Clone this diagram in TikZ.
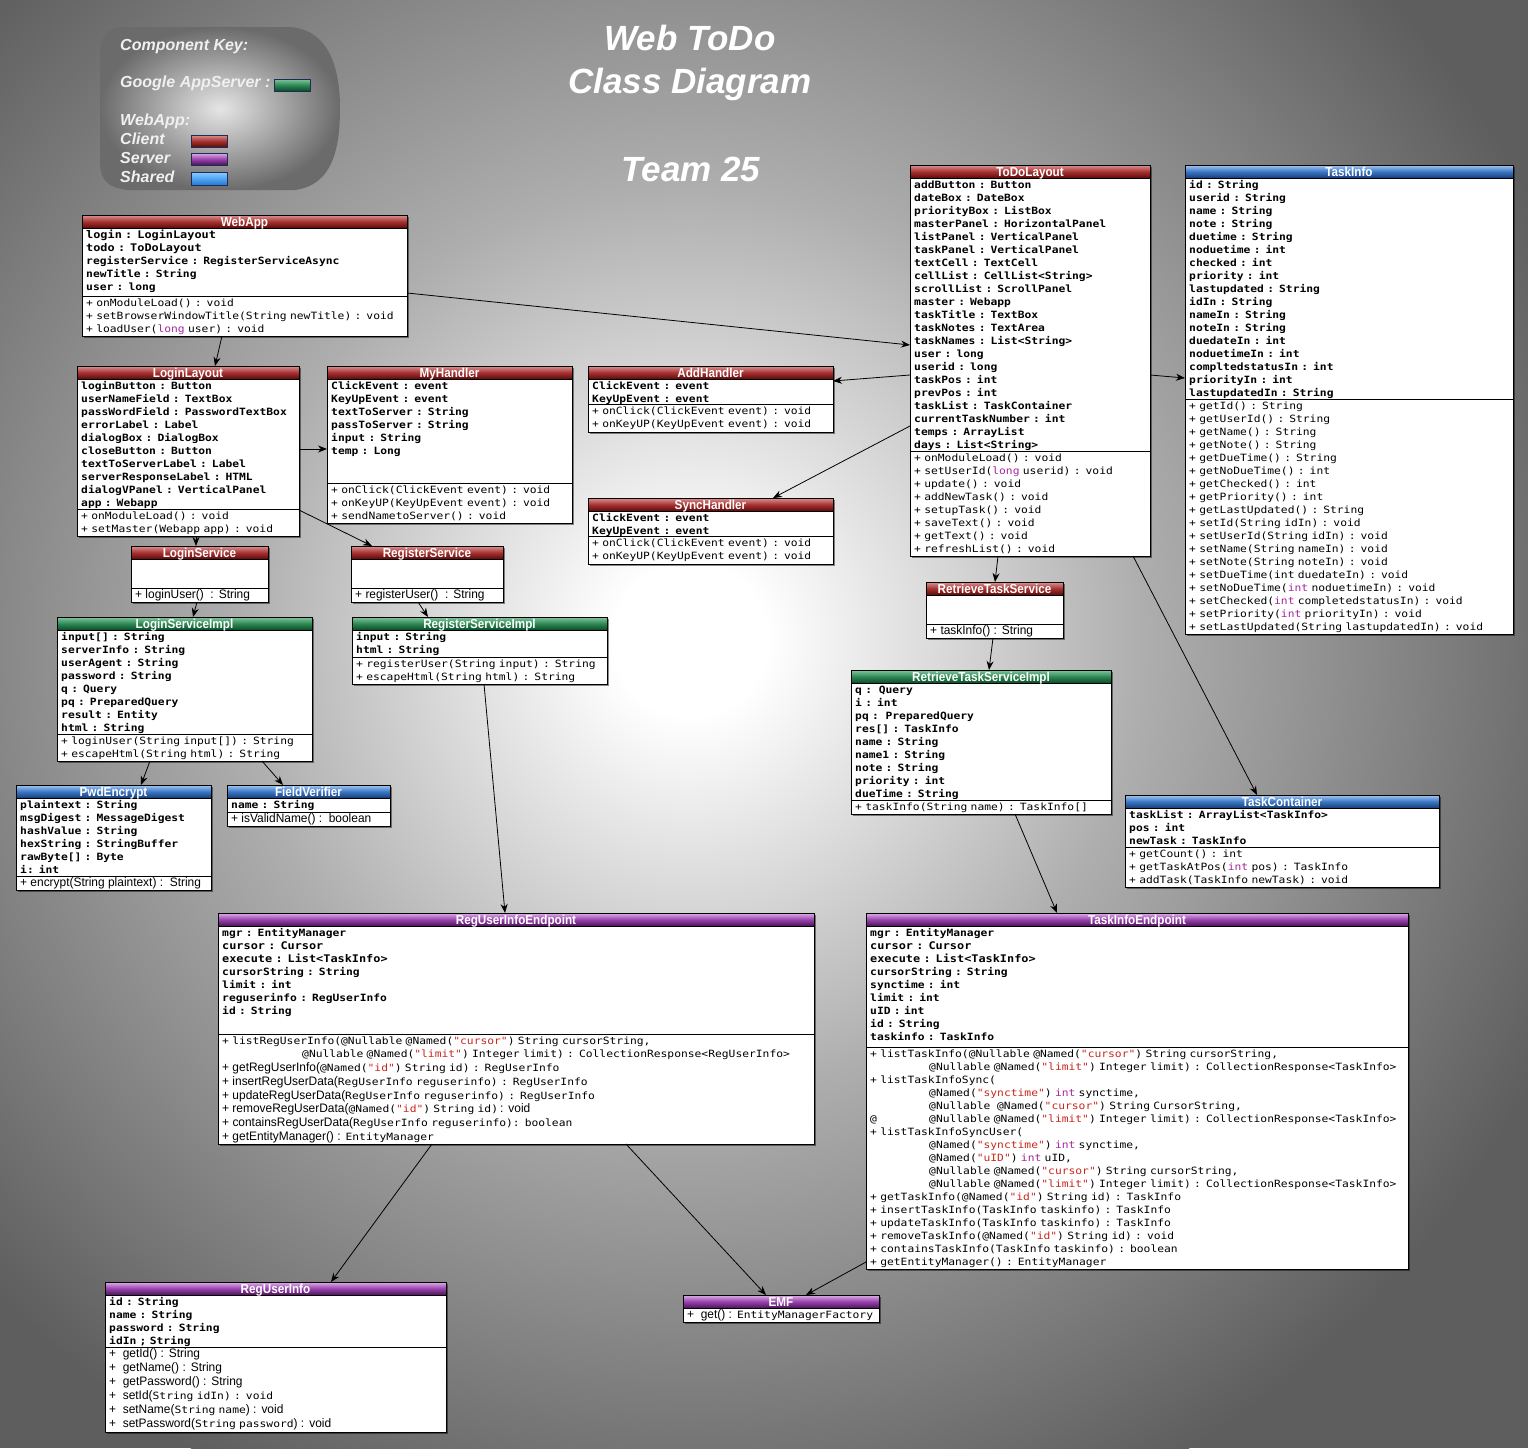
\documentclass[tikz,border=0pt]{standalone}
\usepackage{fontspec}
\setmainfont{Liberation Sans}
\newfontfamily\monof[FakeStretch=1.13]{DejaVu Sans Mono}
\newfontfamily\monoe[FakeStretch=1.13]{DejaVu Sans Mono}
\newfontfamily\hvf[FakeStretch=0.97]{Liberation Sans}
\newfontfamily\hdrf[FakeStretch=0.9]{Liberation Sans}
\usetikzlibrary{calc,shadows,arrows.meta}

\definecolor{kwc}{HTML}{A4289E}
\definecolor{strc}{HTML}{C8281E}
\definecolor{rT}{HTML}{DA9494}\definecolor{rM}{HTML}{A83232}\definecolor{rB}{HTML}{5C0A0A}
\definecolor{gT}{HTML}{86C6A0}\definecolor{gM}{HTML}{2E8A56}\definecolor{gB}{HTML}{0B4A28}
\definecolor{bT}{HTML}{A6C8F0}\definecolor{bM}{HTML}{3C78C6}\definecolor{bB}{HTML}{163C78}
\definecolor{pT}{HTML}{DDB0E8}\definecolor{pM}{HTML}{9844AC}\definecolor{pB}{HTML}{4C125A}
\definecolor{sT}{HTML}{8CCBFF}\definecolor{sM}{HTML}{4FA6F5}\definecolor{sB}{HTML}{2A78D0}
\definecolor{swB}{HTML}{1E2C55}
\definecolor{bgedge}{HTML}{5E5E5E}

\newcommand\kw[1]{\textcolor{kwc}{#1}}
\newcommand\st[1]{\textcolor{strc}{#1}}
\newcommand\hv{\hvf\fontsize{12.3}{13}\selectfont}
\newcommand\epm{\monoe\fontsize{10}{13}\selectfont}
\newcommand\lgr{\fontsize{10.5}{13}\selectfont}

\pgfdeclareradialshading{bgshade}{\pgfpoint{0bp}{0bp}}{color(0bp)=(white); color(2bp)=(white); color(12bp)=(black!32); color(25bp)=(bgedge); color(50bp)=(bgedge)}

\tikzset{
  classbox/.style={draw=black, line width=0.8pt, fill=white, inner sep=0pt, outer sep=0pt,
    drop shadow={shadow xshift=2pt, shadow yshift=-2pt, opacity=0.45, fill=black}},
  hred/.style={top color=rT, bottom color=rB, middle color=rM},
  hgreen/.style={top color=gT, bottom color=gB, middle color=gM},
  hblue/.style={top color=bT, bottom color=bB, middle color=bM},
  hpurple/.style={top color=pT, bottom color=pB, middle color=pM},
  hshared/.style={top color=sT, bottom color=sB, middle color=sM},
  hdrtext/.style={text=white, font=\hdrf\bfseries\fontsize{13}{13}\selectfont, inner sep=0pt},
  attrtext/.style={font=\monof\bfseries\fontsize{10}{13}\selectfont, text width=600pt, align=left,
    inner sep=0pt, execute at begin node={\noindent\rule{0pt}{10pt}}},
  methtext/.style={font=\monof\fontsize{10}{13}\selectfont, text width=600pt, align=left,
    inner sep=0pt, execute at begin node={\noindent\rule{0pt}{10pt}}},
  conn/.style={draw=black, line width=0.8pt, -{Stealth[length=9pt,width=7pt]}},
  titletext/.style={text=white, font=\bfseries\itshape\fontsize{35}{40}\selectfont, inner sep=0pt, anchor=base},
  legtext/.style={text=white!94!black, font=\bfseries\itshape\fontsize{16}{18}\selectfont, inner sep=0pt, anchor=base west},
  swatch/.style={draw=swB, line width=1pt}
}

% #1 name, #2 header style, #3 x, #4 y, #5 width, #6 height, #7 separator y, #8 attributes, #9 methods
\newcommand{\umlclass}[9]{%
  \node[classbox, minimum width=#5pt, minimum height=#6pt, anchor=north west] (#1) at (#3,#4) {};
  \shade[#2] (#3,#4) rectangle ++(#5,13);
  \draw[line width=0.8pt] (#3,#4+13) -- ++(#5,0);
  \draw[line width=0.8pt] (#3,#7) -- ++(#5,0);
  \draw[line width=0.9pt] (#1.north west) rectangle (#1.south east);
  \node[hdrtext, anchor=base] (#1-h) at ($(#1.north)+(0,11.3)$) {#1};
  \node[attrtext, anchor=north west] (#1-a) at (#3+4,#4+13) {#8};
  \node[methtext, anchor=north west] (#1-m) at (#3+4,#7) {#9};
}

\begin{document}
\begin{tikzpicture}[x=1pt,y=-1pt]
\useasboundingbox (0,0) rectangle (1528,1448);
\begin{scope}
  \clip (0,0) rectangle (1528,1448);
  \fill[bgedge] (0,0) rectangle (1528,1448);
  \shade[shading=bgshade] (690,640) circle[radius=950pt];
\end{scope}

% ---------- legend ----------
\shade[inner color=white!90!black, outer color=black!58]
  (122,27) -- (290,27) .. controls (330,30) and (340,70) .. (340,108)
  .. controls (340,150) and (332,185) .. (295,190) -- (128,190)
  .. controls (108,188) and (101,180) .. (100,165) -- (100,50)
  .. controls (101,35) and (108,28) .. (122,27) -- cycle;
\node[legtext] (keyt) at (120,50) {Component Key:};
\node[legtext] (gaet) at (120,87) {Google AppServer :};
\node[legtext] (webt) at (120,125) {WebApp:};
\node[legtext] (clit) at (120,144) {Client};
\node[legtext] (srvt) at (120,163) {Server};
\node[legtext] (shat) at (120,182) {Shared};
\shade[hgreen] (274,79) rectangle (310,91);
\draw[swatch] (274,79) rectangle (310,91);
\shade[hred] (191,135) rectangle (227,147);
\draw[swatch] (191,135) rectangle (227,147);
\shade[hpurple] (191,153) rectangle (227,165);
\draw[swatch] (191,153) rectangle (227,165);
\shade[hshared] (191,172) rectangle (227,185);
\draw[swatch] (191,172) rectangle (227,185);

% ---------- title ----------
\node[titletext] (title1) at (690,50) {Web ToDo};
\node[titletext] (title2) at (690,93) {Class Diagram};
\node[titletext] (title3) at (691,181) {Team 25};

% ---------- classes ----------
\umlclass{WebApp}{hred}{82}{215}{325}{121}{296}
{{\lgr login : LoginLayout}\\{\lgr todo : ToDoLayout}\\registerService : RegisterServiceAsync\\newTitle : String\\user : long}
{+ onModuleLoad() : void\\+ setBrowserWindowTitle(String newTitle) : void\\+ loadUser(\kw{long} user) : void}

\umlclass{LoginLayout}{hred}{77}{366}{222}{170}{509}
{loginButton : Button\\userNameField : TextBox\\passWordField : PasswordTextBox\\errorLabel : Label\\dialogBox : DialogBox\\closeButton : Button\\textToServerLabel : Label\\serverResponseLabel : HTML\\dialogVPanel : VerticalPanel\\app : Webapp}
{+ onModuleLoad() : void\\+ setMaster(Webapp app) : void}

\umlclass{MyHandler}{hred}{327}{366}{245}{157}{483}
{ClickEvent : event\\KeyUpEvent : event\\textToServer : String\\passToServer : String\\input : String\\temp : Long}
{+ onClick(ClickEvent event) : void\\+ onKeyUP(KeyUpEvent event) : void\\+ sendNametoServer() : void}

\umlclass{AddHandler}{hred}{588}{366}{245}{66}{404}
{ClickEvent : event\\KeyUpEvent : event}
{+ onClick(ClickEvent event) : void\\+ onKeyUP(KeyUpEvent event) : void}

\umlclass{SyncHandler}{hred}{588}{498}{245}{66}{536}
{ClickEvent : event\\KeyUpEvent : event}
{+ onClick(ClickEvent event) : void\\+ onKeyUP(KeyUpEvent event) : void}

\umlclass{LoginService}{hred}{131}{546}{137}{56}{588}
{}
{{\hv + loginUser()\ \ : String}}

\umlclass{RegisterService}{hred}{351}{546}{152}{56}{588}
{}
{{\hv + registerUser()\ \ : String}}

\umlclass{LoginServiceImpl}{hgreen}{57}{617}{255}{144}{734}
{input[] : String\\serverInfo : String\\userAgent : String\\password : String\\q : Query\\pq : PreparedQuery\\result : Entity\\html : String}
{+ loginUser(String input[]) : String\\+ escapeHtml(String html) : String}

\umlclass{RegisterServiceImpl}{hgreen}{352}{617}{255}{67}{657}
{input : String\\html : String}
{+ registerUser(String input) : String\\+ escapeHtml(String html) : String}

\umlclass{PwdEncrypt}{hblue}{16}{785}{195}{105}{876}
{plaintext : String\\msgDigest : MessageDigest\\hashValue : String\\hexString : StringBuffer\\rawByte[] : Byte\\i: int}
{{\hv + encrypt(String plaintext) :\ \ String}}

\umlclass{FieldVerifier}{hblue}{227}{785}{163}{41}{812}
{name : String}
{{\hv + isValidName() :\ \ boolean}}

\umlclass{ToDoLayout}{hred}{910}{165}{240}{391}{451}
{addButton : Button\\dateBox : DateBox\\priorityBox : ListBox\\masterPanel : HorizontalPanel\\listPanel : VerticalPanel\\taskPanel : VerticalPanel\\textCell : TextCell\\cellList : CellList<String>\\scrollList : ScrollPanel\\master : Webapp\\taskTitle : TextBox\\taskNotes : TextArea\\taskNames : List<String>\\user : long\\userid : long\\taskPos : int\\prevPos : int\\taskList : TaskContainer\\currentTaskNumber : int\\temps : ArrayList\\days : List<String>}
{+ onModuleLoad() : void\\+ setUserId(\kw{long} userid) : void\\+ update() : void\\+ addNewTask() : void\\+ setupTask() : void\\+ saveText() : void\\+ getText() : void\\+ refreshList() : void}

\umlclass{TaskInfo}{hblue}{1185}{165}{328}{469}{399}
{id : String\\userid : String\\name : String\\note : String\\duetime : String\\noduetime : int\\checked : int\\priority : int\\lastupdated : String\\idIn : String\\nameIn : String\\noteIn : String\\duedateIn : int\\noduetimeIn : int\\compltedstatusIn : int\\priorityIn : int\\lastupdatedIn : String}
{+ getId() : String\\+ getUserId() : String\\+ getName() : String\\+ getNote() : String\\+ getDueTime() : String\\+ getNoDueTime() : int\\+ getChecked() : int\\+ getPriority() : int\\+ getLastUpdated() : String\\+ setId(String idIn) : void\\+ setUserId(String idIn) : void\\+ setName(String nameIn) : void\\+ setNote(String noteIn) : void\\+ setDueTime(int duedateIn) : void\\+ setNoDueTime(\kw{int} noduetimeIn) : void\\+ setChecked(\kw{int} completedstatusIn) : void\\+ setPriority(\kw{int} priorityIn) : void\\+ setLastUpdated(String lastupdatedIn) : void}

\umlclass{RetrieveTaskService}{hred}{926}{582}{137}{56}{624}
{}
{{\hv + taskInfo() : String}}

\umlclass{RetrieveTaskServiceImpl}{hgreen}{851}{670}{260}{144}{800}
{q :\ \ Query\\i : int\\pq :\ \ PreparedQuery\\res[] : TaskInfo\\name : String\\name1 : String\\note : String\\priority : int\\dueTime : String}
{+ taskInfo(String name) : TaskInfo[]}

\umlclass{TaskContainer}{hblue}{1125}{795}{314}{92}{847}
{taskList : ArrayList<TaskInfo>\\pos : int\\newTask : TaskInfo}
{+ getCount() : int\\+ getTaskAtPos(\kw{int} pos) : TaskInfo\\+ addTask(TaskInfo newTask) : void}

\umlclass{RegUserInfoEndpoint}{hpurple}{218}{913}{596}{231}{1034}
{mgr : EntityManager\\{\lgr cursor : Cursor}\\{\lgr execute : List<TaskInfo>}\\cursorString : String\\limit : int\\reguserinfo : RegUserInfo\\id : String}
{\epm + listRegUserInfo(@Nullable @Named(\st{"cursor"}) String cursorString,\\[0.7pt]
\hspace*{80pt}@Nullable @Named(\st{"limit"}) Integer limit) : CollectionResponse<RegUserInfo>\\[0.7pt]
{\hv + getRegUserInfo(}@Named(\st{"id"}) String id) : RegUserInfo\\[0.7pt]
{\hv + insertRegUserData(}RegUserInfo reguserinfo) : RegUserInfo\\[0.7pt]
{\hv + updateRegUserData(}RegUserInfo reguserinfo) : RegUserInfo\\[0.7pt]
{\hv + removeRegUserData(}@Named(\st{"id"}) String id){\hv\,: void}\\[0.7pt]
{\hv + containsRegUserData(}RegUserInfo reguserinfo): boolean\\[0.7pt]
{\hv + getEntityManager() : }EntityManager}

\umlclass{TaskInfoEndpoint}{hpurple}{866}{913}{542}{356}{1047}
{mgr : EntityManager\\{\lgr cursor : Cursor}\\{\lgr execute : List<TaskInfo>}\\cursorString : String\\synctime : int\\limit : int\\uID : int\\id : String\\taskinfo : TaskInfo}
{\epm + listTaskInfo(@Nullable @Named(\st{"cursor"}) String cursorString,\\
\hspace*{59pt}@Nullable @Named(\st{"limit"}) Integer limit) : CollectionResponse<TaskInfo>\\
+ listTaskInfoSync(\\
\hspace*{59pt}@Named(\st{"synctime"}) \kw{int} synctime,\\
\hspace*{59pt}@Nullable\ \ @Named(\st{"cursor"}) String CursorString,\\
\makebox[59pt][l]{@}@Nullable @Named(\st{"limit"}) Integer limit) : CollectionResponse<TaskInfo>\\
+ listTaskInfoSyncUser(\\
\hspace*{59pt}@Named(\st{"synctime"}) \kw{int} synctime,\\
\hspace*{59pt}@Named(\st{"uID"}) \kw{int} uID,\\
\hspace*{59pt}@Nullable @Named(\st{"cursor"}) String cursorString,\\
\hspace*{59pt}@Nullable @Named(\st{"limit"}) Integer limit) : CollectionResponse<TaskInfo>\\
+ getTaskInfo(@Named(\st{"id"}) String id) : TaskInfo\\
+ insertTaskInfo(TaskInfo taskinfo) : TaskInfo\\
+ updateTaskInfo(TaskInfo taskinfo) : TaskInfo\\
+ removeTaskInfo(@Named(\st{"id"}) String id) : void\\
+ containsTaskInfo(TaskInfo taskinfo) : boolean\\
+ getEntityManager() : EntityManager}

\umlclass{RegUserInfo}{hpurple}{105}{1282}{341}{150}{1347}
{id : String\\name : String\\password : String\\idIn ; String}
{{\hv + \ getId() : String}\\[1pt]
{\hv + \ getName() : String}\\[1pt]
{\hv + \ getPassword() : String}\\[1pt]
{\hv + \ setId(}String idIn) : void\\[1pt]
{\hv + \ setName(}String name{\hv ) : void}\\[1pt]
{\hv + \ setPassword(}String password{\hv ) : void}}

\umlclass{EMF}{hpurple}{683}{1295}{196}{27}{1308}
{}
{{\hv + \ get() : }EntityManagerFactory}

% ---------- connectors ----------
\draw[conn] ($(WebApp.north east)+(0,78)$) -- ($(ToDoLayout.north west)+(0,180)$);
\draw[conn] ($(WebApp.south west)+(140,0)$) -- ($(LoginLayout.north west)+(138,0)$);
\draw[conn] ($(LoginLayout.north east)+(0,83)$) -- ($(MyHandler.north west)+(0,83)$);
\draw[conn] ($(LoginLayout.north east)+(0,144)$) -- ($(RegisterService.north west)+(21,0)$);
\draw[conn] ($(LoginLayout.south west)+(119,0)$) -- ($(LoginService.north west)+(65,0)$);
\draw[conn] ($(LoginService.south west)+(66,0)$) -- ($(LoginServiceImpl.north west)+(136,0)$);
\draw[conn] ($(RegisterService.south west)+(67,0)$) -- ($(RegisterServiceImpl.north west)+(76,0)$);
\draw[conn] ($(LoginServiceImpl.south west)+(93,0)$) -- ($(PwdEncrypt.north west)+(125,0)$);
\draw[conn] ($(LoginServiceImpl.south west)+(205,0)$) -- ($(FieldVerifier.north west)+(56,0)$);
\draw[conn] ($(RegisterServiceImpl.south west)+(132,0)$) -- ($(RegUserInfoEndpoint.north west)+(287,0)$);
\draw[conn] ($(ToDoLayout.north west)+(0,210)$) -- ($(AddHandler.north east)+(0,15)$);
\draw[conn] ($(ToDoLayout.north west)+(0,261)$) -- ($(SyncHandler.north west)+(185,0)$);
\draw[conn] ($(ToDoLayout.north east)+(0,210)$) -- ($(TaskInfo.north west)+(0,213)$);
\draw[conn] ($(ToDoLayout.south west)+(88,0)$) -- ($(RetrieveTaskService.north west)+(69,0)$);
\draw[conn] ($(RetrieveTaskService.south west)+(67,0)$) -- ($(RetrieveTaskServiceImpl.north west)+(138,0)$);
\draw[conn] ($(ToDoLayout.south west)+(223,0)$) -- ($(TaskContainer.north west)+(132,0)$);
\draw[conn] ($(RetrieveTaskServiceImpl.south west)+(164,0)$) -- ($(TaskInfoEndpoint.north west)+(191,0)$);
\draw[conn] ($(RegUserInfoEndpoint.south west)+(214,0)$) -- ($(RegUserInfo.north west)+(226,0)$);
\draw[conn] ($(RegUserInfoEndpoint.south west)+(408,0)$) -- ($(EMF.north west)+(83,0)$);
\draw[conn] ($(TaskInfoEndpoint.south west)+(0,-7)$) -- ($(EMF.north west)+(123,0)$);
\end{tikzpicture}
\end{document}
